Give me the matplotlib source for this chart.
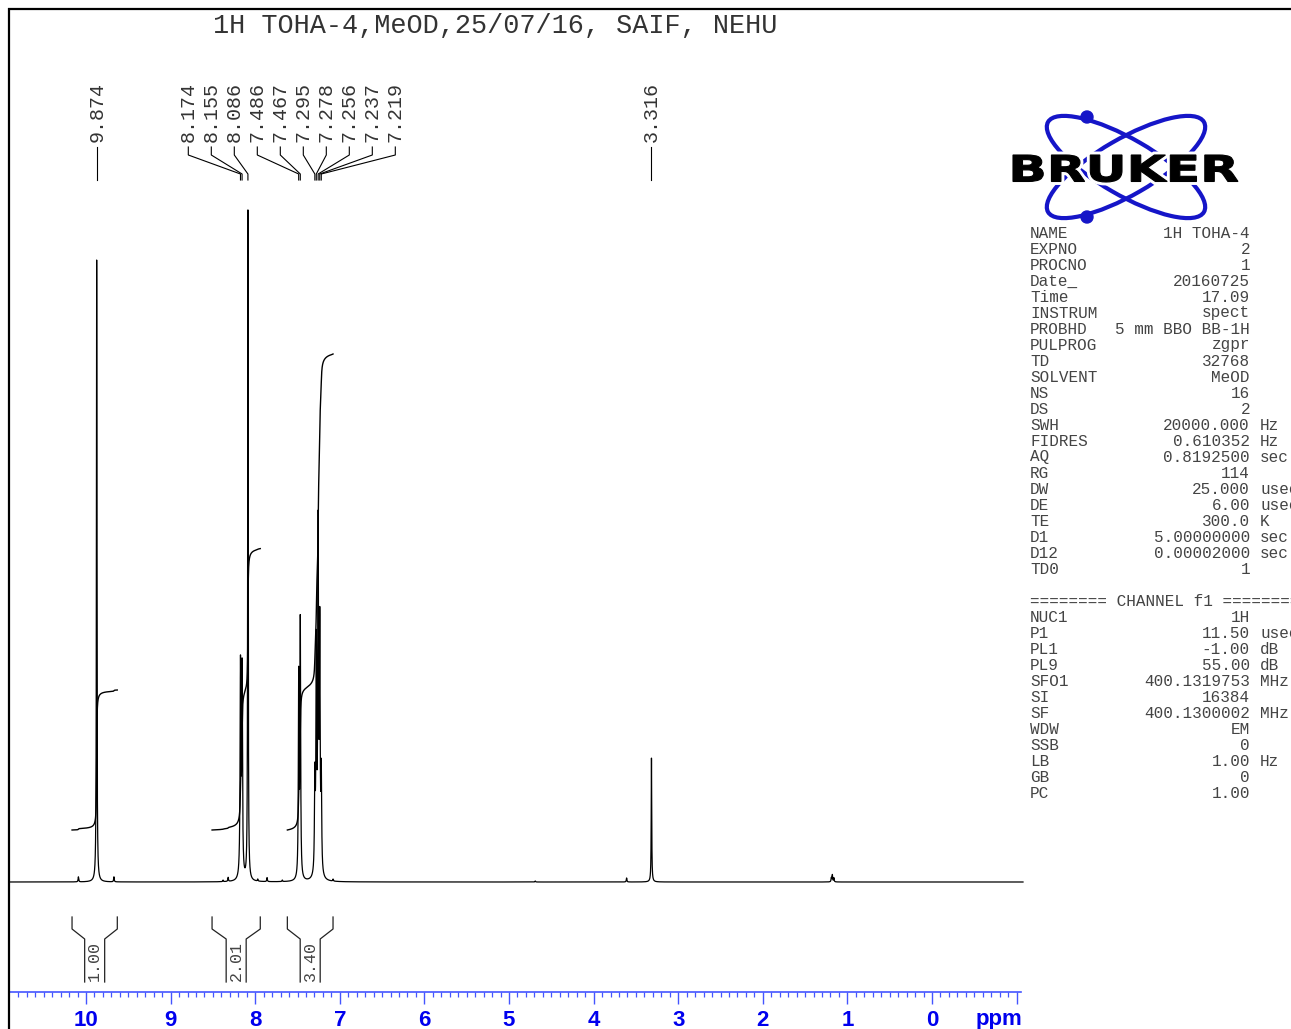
import numpy as np
import matplotlib
matplotlib.use('Agg')
import matplotlib.pyplot as plt
from matplotlib.patches import Ellipse, Circle, PathPatch
from matplotlib.textpath import TextPath
from matplotlib.font_manager import FontProperties
from matplotlib.transforms import Affine2D
from matplotlib.ticker import FixedLocator, MultipleLocator

# ---------------- data ----------------
title = "1H TOHA-4,MeOD,25/07/16, SAIF, NEHU"

peak_ppm = [9.874, 8.174, 8.155, 8.086, 7.486, 7.467, 7.295, 7.278, 7.256, 7.237, 7.219, 3.316]
peak_height = [622, 210, 206, 670, 200, 255, 92, 222, 340, 240, 96, 124]
peak_hwhm = [0.0035, 0.0055, 0.0055, 0.0035, 0.0048, 0.0048, 0.0052, 0.0052, 0.0052, 0.0052, 0.0052, 0.0035]

minor_ppm = [10.09, 9.67, 8.38, 8.32, 7.97, 7.86, 7.68, 7.08, 4.69, 3.61, 1.19, 1.178, 1.16]
minor_height = [5, 5, 1.5, 4, 2, 4, 1.5, 2, 1, 4, 4, 7, 4]

integral_ranges = [(10.165, 9.63), (8.51, 7.94), (7.62, 7.08)]
integral_values = [1.00, 2.01, 3.40]

major_ticks = [10, 9, 8, 7, 6, 5, 4, 3, 2, 1, 0, -1]
major_labels = ['10', '9', '8', '7', '6', '5', '4', '3', '2', '1', '0', '']

params = [
    ("NAME", "1H TOHA-4", ""), ("EXPNO", "2", ""), ("PROCNO", "1", ""),
    ("Date_", "20160725", ""), ("Time", "17.09", ""), ("INSTRUM", "spect", ""),
    ("PROBHD", "5 mm BBO BB-1H", ""), ("PULPROG", "zgpr", ""), ("TD", "32768", ""),
    ("SOLVENT", "MeOD", ""), ("NS", "16", ""), ("DS", "2", ""),
    ("SWH", "20000.000", "Hz"), ("FIDRES", "0.610352", "Hz"), ("AQ", "0.8192500", "sec"),
    ("RG", "114", ""), ("DW", "25.000", "usec"), ("DE", "6.00", "usec"),
    ("TE", "300.0", "K"), ("D1", "5.00000000", "sec"), ("D12", "0.00002000", "sec"),
    ("TD0", "1", ""),
]
channel_header = "======== CHANNEL f1 ========"
channel_params = [
    ("NUC1", "1H", ""), ("P1", "11.50", "usec"), ("PL1", "-1.00", "dB"),
    ("PL9", "55.00", "dB"), ("SFO1", "400.1319753", "MHz"), ("SI", "16384", ""),
    ("SF", "400.1300002", "MHz"), ("WDW", "EM", ""), ("SSB", "0", ""),
    ("LB", "1.00", "Hz"), ("GB", "0", ""), ("PC", "1.00", ""),
]

# ---------------- layout ----------------
W, H = 1291, 1029
fig = plt.figure(figsize=(W / 100, H / 100), dpi=100)
fig.patch.set_facecolor('white')

PX10, PXPPM = 86.0, 84.6          # pixel of 10 ppm, pixels per ppm
BASE = 882.0                      # baseline pixel row
ax_l, ax_r, ax_t, ax_b = 10, 1021, 10, 992

def px2ppm(px):
    return 10 - (px - PX10) / PXPPM

def row2y(row):
    return BASE - row

ax = fig.add_axes([ax_l / W, (H - ax_b) / H, (ax_r - ax_l) / W, (ax_b - ax_t) / H])
ax.set_xlim(px2ppm(ax_l), px2ppm(ax_r))
ax.set_ylim(row2y(ax_b), row2y(ax_t))
ax.patch.set_alpha(0)

# spectrum
x = np.linspace(px2ppm(ax_l), px2ppm(ax_r + 2), 40001)
y = np.zeros_like(x)
for p, h, g in zip(peak_ppm, peak_height, peak_hwhm):
    y += h * g ** 2 / ((x - p) ** 2 + g ** 2)
for p, h in zip(minor_ppm, minor_height):
    y += h * 0.004 ** 2 / ((x - p) ** 2 + 0.004 ** 2)
ax.plot(x, y, color='black', lw=0.9, clip_on=False)

# integral curves
INT_SCALE, INT_OFF = 140.0, 52.0
for (hi, lo), val in zip(integral_ranges, integral_values):
    m = (x <= hi) & (x >= lo)
    cs = np.cumsum(y[m])
    cs = cs / cs[-1]
    ax.plot(x[m], INT_OFF + cs * val * INT_SCALE, color='black', lw=1.0)

# integral brackets and labels
inset = 10 / PXPPM
for (hi, lo), val in zip(integral_ranges, integral_values):
    c = (hi + lo) / 2
    for outer, inner in ((hi, c + inset), (lo, c - inset)):
        ax.plot([outer, outer, inner, inner],
                [row2y(917), row2y(929), row2y(939), row2y(982)],
                color='#222222', lw=0.9)
    ax.text(c, row2y(981), f"{val:.2f}", rotation=90, ha='center', va='bottom',
            family='Liberation Mono', fontsize=12, color='#444444')

# peak labels
label_px = []
for i, p in enumerate(peak_ppm):
    if 1 <= i <= 10:
        label_px.append(188.3 + 23.0 * (i - 1))
    else:
        label_px.append(PX10 + (10 - p) * PXPPM)
for p, lpx in zip(peak_ppm, label_px):
    lx = px2ppm(lpx)
    ax.text(lx, row2y(142), f"{p:.3f}", rotation=90, ha='center', va='bottom',
            family='Liberation Mono', fontsize=14.4, color='#333333')
    ax.plot([lx, lx, p, p], [row2y(147), row2y(155), row2y(174), row2y(180)],
            color='black', lw=0.8)

# axis styling
for s in ('top', 'left', 'right'):
    ax.spines[s].set_visible(False)
ax.spines['bottom'].set_color('#4455ff')
ax.spines['bottom'].set_linewidth(1.2)
ax.set_yticks([])
ax.xaxis.set_major_locator(FixedLocator(major_ticks))
ax.set_xticklabels(major_labels, fontweight='bold', family='Liberation Sans')
ax.xaxis.set_minor_locator(MultipleLocator(0.1))
ax.tick_params(axis='x', which='major', length=8.6, width=1.0, color='#4455ff',
               labelcolor='#0000ee', labelsize=16, pad=4.5)
ax.tick_params(axis='x', which='minor', length=3.6, width=0.9, color='#4455ff')

# ---------------- overlay (pixel coords) ----------------
ov = fig.add_axes([0, 0, 1, 1])
ov.set_xlim(0, W)
ov.set_ylim(H, 0)
ov.axis('off')
ov.patch.set_alpha(0)

ov.plot([8, W], [9, 9], color='black', lw=1.6, solid_capstyle='butt')
ov.plot([9, 9], [8, H], color='black', lw=1.6, solid_capstyle='butt')

ov.text(213, 26, title, family='Liberation Mono', fontsize=19.4, ha='left',
        va='center', color='#333333')

ov.text(999, 1020, 'ppm', family='Liberation Sans', fontweight='bold', fontsize=16,
        color='#0000ee', ha='center', va='center')

# parameter table (right side is cut by the figure edge as in the reference)
def row(yc, name, val, unit):
    kw = dict(family='Liberation Mono', fontsize=11.5, color='#444444', va='center')
    ov.text(1030, yc, name, ha='left', **kw)
    ov.text(1250, yc, val, ha='right', **kw)
    if unit:
        ov.text(1260, yc, unit, ha='left', **kw)

for i, (n, v, u) in enumerate(params):
    row(233 + 16 * i, n, v, u)
ov.text(1030, 601, channel_header, family='Liberation Mono', fontsize=11.5,
        color='#444444', va='center', ha='left')
for i, (n, v, u) in enumerate(channel_params):
    row(617 + 16 * i, n, v, u)

# Bruker logo
blue = '#1515c8'
cx, cy = 1126, 167
for ang in (30, -30):
    ov.add_patch(Ellipse((cx, cy), 180, 56, angle=ang, fill=False, ec=blue, lw=3.0))
ov.add_patch(Circle((1087, 117), 6, color=blue))
ov.add_patch(Circle((1087, 217), 6, color=blue))

fp = FontProperties(family='DejaVu Sans', weight='bold')
tp = TextPath((0, 0), "BRUKER", size=100, prop=fp)
ext = tp.get_extents()
sx = 225 / ext.width
sy = 27 / ext.height
tr = Affine2D().translate(-ext.x0, -ext.y0).scale(sx, -sy).translate(1013, 182)
path = tr.transform_path(tp)
ov.add_patch(PathPatch(path, fc='white', ec='white', lw=5))
ov.add_patch(PathPatch(path, fc='black', ec='black', lw=0.8))

fig.savefig('out.png', dpi=100)
